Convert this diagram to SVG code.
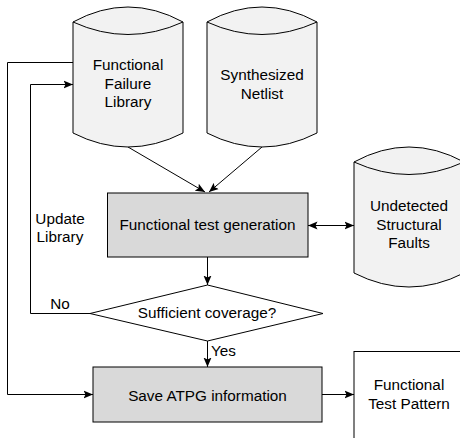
<svg xmlns="http://www.w3.org/2000/svg" width="460" height="438" viewBox="0 0 460 438">
<defs>
<style>
text{font-family:"Liberation Sans",Arial,sans-serif;font-size:15.3px;fill:#000;text-anchor:middle}
.cyl{fill:#f2f2f2;stroke:#000;stroke-width:1}
.lens{fill:none;stroke:#000;stroke-width:1}
.proc{fill:#d9d9d9;stroke:#000;stroke-width:1}
.box{fill:#fff;stroke:#000;stroke-width:1}
.edge{fill:none;stroke:#000;stroke-width:1}
.l{text-anchor:start}
</style>
<marker id="ah" markerUnits="userSpaceOnUse" markerWidth="10" markerHeight="9" refX="9.5" refY="4.5" orient="auto-start-reverse">
<path d="M0,0.5 L9.5,4.5 L0,8.5 L2,4.5 Z" fill="#000"/>
</marker>
</defs>
<g id="connectors">
<path class="edge" d="M128,147 L205,192" marker-end="url(#ah)"/>
<path class="edge" d="M262,147 L209,192" marker-end="url(#ah)"/>
<path class="edge" d="M207.5,257 L207.5,285" marker-end="url(#ah)"/>
<path class="edge" d="M308,225.5 L354,225.5" marker-start="url(#ah)" marker-end="url(#ah)"/>
<path class="edge" d="M207.5,341 L207.5,367" marker-end="url(#ah)"/>
<path class="edge" d="M322,394.5 L354,394.5" marker-end="url(#ah)"/>
<path class="edge" d="M90,313.5 L30.5,313.5 L30.5,84.5 L73,84.5" marker-end="url(#ah)"/>
<path class="edge" d="M73,62.5 L7.5,62.5 L7.5,394.5 L93,394.5" marker-end="url(#ah)"/>
<text x="60" y="308.5">No</text>
<text x="60" y="223.5">Update</text>
<text x="60" y="242">Library</text>
<text class="l" x="211" y="356">Yes</text>
</g>
<g id="functional-failure-library">
<path class="cyl" d="M73,22 Q128,-8 183,22 L183,133 Q128,161 73,133 Z"/>
<path class="lens" d="M73,22 Q128,47 183,22"/>
<text x="128" y="70">Functional</text>
<text x="128" y="88.5">Failure</text>
<text x="128" y="107">Library</text>
</g>
<g id="synthesized-netlist">
<path class="cyl" d="M207,22 Q262,-8 317,22 L317,133 Q262,161 207,133 Z"/>
<path class="lens" d="M207,22 Q262,47 317,22"/>
<text x="262" y="80">Synthesized</text>
<text x="262" y="98.5">Netlist</text>
</g>
<g id="functional-test-generation">
<rect class="proc" x="107.5" y="193" width="200.5" height="64"/>
<text x="207.5" y="230">Functional test generation</text>
</g>
<g id="undetected-structural-faults">
<path class="cyl" d="M354,162 Q409,132 464,162 L464,273 Q409,301 354,273 Z"/>
<path class="lens" d="M354,162 Q409,187 464,162"/>
<text x="409" y="211">Undetected</text>
<text x="409" y="229.5">Structural</text>
<text x="409" y="248">Faults</text>
</g>
<g id="sufficient-coverage">
<path class="box" d="M207.5,285 L323,313.5 L207.5,341 L90,313.5 Z"/>
<text x="207" y="318">Sufficient coverage?</text>
</g>
<g id="save-atpg-information">
<rect class="proc" x="93" y="367" width="229" height="55"/>
<text x="207.5" y="401">Save ATPG information</text>
</g>
<g id="functional-test-pattern">
<rect class="box" x="354" y="351.5" width="112" height="100"/>
<text x="409" y="390">Functional</text>
<text x="409" y="409">Test Pattern</text>
</g>
</svg>
